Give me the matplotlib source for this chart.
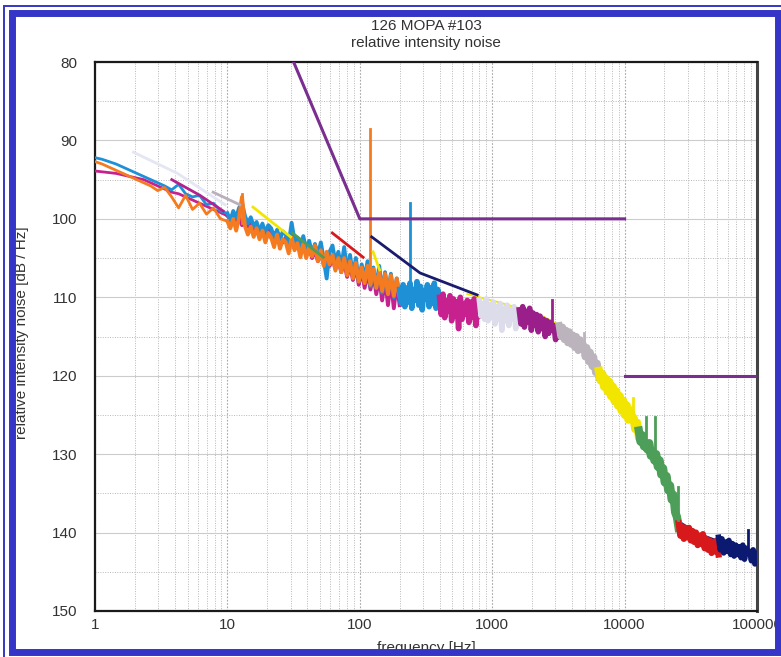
import numpy as np
import matplotlib.pyplot as plt
from matplotlib.patches import Rectangle
from matplotlib.ticker import FixedLocator, LogLocator, MultipleLocator, NullFormatter

plt.rcParams['font.family'] = ['Liberation Sans', 'DejaVu Sans']

# --- low-frequency sweeps: 1-10 Hz (coarse) and 10-200 Hz (fine) ---
orange_lo = [92.7, 93.0, 93.4, 93.8, 94.2, 94.6, 95.0, 95.4, 95.8, 96.4,
             96.0, 97.2, 98.6, 97.0, 98.8, 98.0, 99.4, 98.6, 100.0, 100.3]
blue_lo = [92.2, 92.4, 92.7, 93.0, 93.4, 93.8, 94.2, 94.6, 95.0, 95.4,
           95.8, 96.3, 95.6, 96.8, 97.2, 97.0, 98.2, 98.0, 99.0, 99.3]
magenta_lo = [93.9, 94.0, 94.1, 94.2, 94.4, 94.6, 94.8, 95.0, 95.4, 95.8,
              96.2, 96.6, 96.8, 97.2, 97.6, 98.0, 98.4, 98.8, 99.2, 99.6]

orange_hi = [100.3, 101.2, 100.0, 101.5, 99.8, 97.2, 100.9, 102.0, 101.0, 102.3,
             101.2, 102.6, 101.5, 103.0, 101.8, 102.4, 103.6, 102.0, 103.8, 102.6,
             103.0, 104.4, 102.4, 104.0, 103.1, 104.9, 103.2, 105.0, 103.6, 104.8,
             103.4, 105.4, 104.0, 106.0, 104.2, 105.8, 104.6, 106.6, 105.0, 106.8,
             105.0, 107.2, 105.4, 107.6, 105.6, 108.0, 106.2, 108.2, 106.0, 108.4,
             106.4, 108.8, 106.8, 109.2, 107.0, 109.6, 107.2, 109.8, 107.6, 110.0]
blue_hi = [99.3, 100.2, 99.0, 99.8, 98.6, 98.0, 99.6, 100.6, 99.8, 101.0,
           100.4, 101.6, 100.6, 101.8, 100.8, 101.2, 102.4, 101.4, 102.6, 101.6,
           102.0, 103.2, 100.5, 102.8, 102.4, 103.6, 102.2, 104.0, 102.8, 104.4,
           103.2, 104.6, 103.0, 105.2, 107.6, 104.2, 103.4, 105.6, 104.2, 106.2,
           103.6, 106.8, 104.6, 107.2, 105.0, 108.0, 105.8, 107.6, 105.4, 108.6,
           106.2, 108.8, 106.0, 109.4, 106.8, 109.6, 107.0, 110.0, 107.6, 109.8]
magenta_hi = [99.6, 100.0, 99.4, 100.4, 99.8, 100.8, 100.2, 101.0, 100.6, 101.4,
              100.8, 101.8, 101.0, 102.2, 101.4, 102.4, 101.8, 102.6, 102.2, 103.0,
              102.4, 103.4, 102.8, 103.8, 103.0, 104.2, 103.4, 104.6, 103.6, 105.0,
              104.0, 105.4, 104.2, 105.8, 104.6, 106.0, 105.0, 106.4, 105.2, 106.8,
              105.4, 107.4, 105.8, 107.8, 106.0, 108.4, 106.4, 108.8, 106.6, 109.0,
              107.0, 109.6, 107.4, 110.4, 107.6, 111.0, 107.8, 111.4, 108.2, 111.0]

# --- octave spans 200 Hz .. 100 kHz ---
span_edges = [200, 400, 800, 1600, 3200, 6400, 12800, 25600, 51200, 102400]
span_blue = [109.0, 110.8, 108.4, 111.2, 108.8, 110.6, 108.2, 111.4, 109.0, 110.4, 108.0, 111.0,
             108.6, 111.6, 109.2, 110.2, 108.4, 111.2, 108.8, 110.8, 108.2, 111.4, 109.0, 110.6]
span_magenta = [110.0, 112.2, 109.6, 112.6, 110.4, 111.8, 109.8, 113.0, 110.2, 112.4, 110.6, 114.0,
                110.0, 112.8, 110.8, 112.2, 110.4, 113.2, 110.6, 112.6, 110.2, 113.6, 111.0, 112.4]
span_lavender = [110.4, 112.4, 110.8, 112.8, 110.2, 113.0, 111.0, 112.6, 110.6, 113.4, 111.2, 112.8,
                 110.8, 114.2, 111.4, 113.0, 111.0, 113.6, 111.6, 112.8, 111.2, 114.0, 111.8, 113.2]
span_purple = [111.6, 113.4, 111.2, 113.8, 111.8, 113.2, 111.4, 114.2, 112.0, 113.6, 112.2, 114.4,
               112.4, 114.0, 112.8, 115.0, 113.0, 114.6, 113.2, 114.2, 113.6, 115.4, 113.8, 115.0]
span_grey = [113.6, 115.0, 113.8, 115.4, 114.2, 115.8, 114.4, 116.0, 114.8, 116.4, 115.0, 116.8,
             115.4, 116.6, 116.0, 117.6, 116.4, 118.2, 117.0, 118.8, 117.6, 119.6, 118.4, 120.2]
span_yellow = [119.4, 120.6, 119.8, 121.4, 120.4, 122.0, 120.8, 122.6, 121.4, 123.2, 122.0, 123.8,
               122.6, 124.4, 123.2, 125.0, 123.8, 125.6, 124.4, 125.2, 125.4, 126.8, 126.0, 127.6]
span_green = [127.0, 128.4, 127.6, 129.0, 128.8, 129.4, 128.6, 130.2, 129.6, 130.8, 130.0, 131.6,
              130.8, 132.6, 131.8, 133.6, 132.8, 134.6, 134.0, 135.8, 135.2, 137.4, 138.0, 139.4]
span_red = [138.8, 140.4, 139.2, 140.8, 139.4, 140.6, 139.4, 141.0, 139.8, 141.2, 140.0, 141.6,
            140.4, 141.4, 140.2, 142.0, 140.8, 142.2, 141.0, 142.6, 141.2, 142.4, 141.0, 142.8]
span_navy = [140.6, 142.2, 140.8, 142.6, 141.2, 142.4, 141.0, 142.8, 141.4, 143.0, 141.6, 142.8,
             141.8, 143.2, 141.6, 143.4, 142.0, 142.6, 142.4, 143.6, 142.2, 144.0, 142.6, 143.8]

span_values = [span_blue, span_magenta, span_lavender, span_purple, span_grey,
               span_yellow, span_green, span_red, span_navy]
span_colors = ['#1e90d6', '#c6218e', '#dcdcea', '#9a1f8a', '#bbb4bc',
               '#f2e600', '#4c9e58', '#d7191c', '#0b1a70']
# the steep roll-off spans read as wider bands
span_widths = [4.0, 4.0, 4.0, 4.0, 5.0, 6.0, 6.0, 4.5, 4.0]

# narrow lines standing out of the noise floor
spike_f = [13, 120, 240, 2850, 4900, 11500, 14600, 16900, 25300, 85000]
spike_top = [96.8, 88.5, 98.0, 110.4, 114.6, 122.8, 125.3, 125.3, 134.2, 139.7]
spike_base = [100.5, 107.5, 109.5, 113.5, 116.4, 125.0, 128.6, 130.0, 138.4, 142.6]
spike_colors = ['#f47b20', '#f47b20', '#1e90d6', '#9a1f8a', '#bbb4bc',
                '#f2e600', '#4c9e58', '#4c9e58', '#4c9e58', '#0b1a70']

# traces that sit mostly underneath the spans
under_yellow_f = [650, 800, 1100, 1600, 2400, 3400, 4600, 6000]
under_yellow_db = [109.6, 110.0, 110.6, 111.4, 112.4, 113.8, 115.6, 118.4]
under_red_f = [1200, 2000, 3000, 5000, 7000, 9000, 12000, 16000, 20000, 26000]
under_red_db = [111.4, 112.4, 113.6, 116.0, 120.0, 122.6, 125.8, 130.2, 133.8, 138.6]
under_navy_f = [4000, 6000, 8000, 10000, 13000, 16000, 20000, 26000, 35000, 50000]
under_navy_db = [114.6, 118.4, 121.4, 123.6, 127.4, 130.0, 133.6, 138.6, 140.0, 141.0]

# averaged low-resolution traces
smooth_f = [[1.95, 4.2, 9.6], [3.8, 6.2, 9.3], [7.8, 12.4], [15.6, 30],
            [31, 53], [62, 106], [126, 141], [123, 285, 770]]
smooth_db = [[91.5, 94.2, 98.2], [95.0, 97.0, 99.0], [96.6, 98.2], [98.5, 102.3],
             [101.8, 104.9], [101.8, 104.9], [104.2, 106.5], [102.3, 106.9, 109.7]]
smooth_colors = ['#e4e6f4', '#b3218f', '#b8b0bc', '#f2e600',
                 '#4c9e58', '#d7191c', '#f2e600', '#1a1a6e']

# RIN specification
spec_f = [10, 100, 10000]
spec_db = [60, 100, 100]
spec2_f = [10000, 100000]
spec2_db = [120, 120]

W, H = 781, 657
fig = plt.figure(figsize=(W / 100, H / 100), dpi=100)
ax = fig.add_axes([95 / W, 1 - 611 / H, (757 - 95) / W, (611 - 62) / H])
ax.set_xscale('log')
ax.set_xlim(1, 100000)
ax.set_ylim(150, 80)

ax.xaxis.set_major_locator(FixedLocator([1, 10, 100, 1000, 10000, 100000]))
ax.set_xticklabels(['1', '10', '100', '1000', '10000', '100000'])
ax.xaxis.set_minor_locator(LogLocator(base=10, subs=range(2, 10), numticks=50))
ax.xaxis.set_minor_formatter(NullFormatter())
ax.set_yticks(range(80, 151, 10))
ax.yaxis.set_minor_locator(MultipleLocator(5))

ax.grid(which='major', axis='y', color='#cccccc', lw=0.8, ls='-')
ax.grid(which='major', axis='x', color='#a8a8a8', lw=0.8, ls=(0, (1.5, 1.5)))
ax.grid(which='minor', color='#b8b8b8', lw=0.7, ls=(0, (1, 1.5)))
ax.set_axisbelow(True)
ax.tick_params(which='both', length=0, labelsize=11, colors='#333333')
ax.tick_params(axis='y', pad=13)
ax.tick_params(axis='x', pad=5)
for s in ax.spines.values():
    s.set_color('#1a1a1a')
    s.set_linewidth(1.6)
ax.spines['right'].set_color('#444444')
ax.spines['right'].set_linewidth(2.2)

f_lo = np.geomspace(1, 10, 20)
f_hi = np.geomspace(10, 200, 60)

# hidden traces first
ax.plot(under_yellow_f, under_yellow_db, color='#f2e600', lw=1.4, zorder=2)
ax.plot(under_red_f, under_red_db, color='#d7191c', lw=1.2, zorder=2)
ax.plot(under_navy_f, under_navy_db, color='#0b1a70', lw=1.2, zorder=2)

for lo, hi, c in [(magenta_lo, magenta_hi, '#c6218e'),
                  (blue_lo, blue_hi, '#1e90d6'),
                  (orange_lo, orange_hi, '#f47b20')]:
    ax.plot(f_lo, lo, color=c, lw=2.0, zorder=3)
    ax.plot(f_hi, hi, color=c, lw=2.8, zorder=3)

for i, vals in enumerate(span_values):
    f = np.geomspace(span_edges[i], span_edges[i + 1], len(vals))
    ax.plot(f, vals, color=span_colors[i], lw=span_widths[i], zorder=3)

for fx, top, base, c in zip(spike_f, spike_top, spike_base, spike_colors):
    ax.plot([fx, fx], [base, top], color=c, lw=2.0, zorder=3.5)

for fx, db, c in zip(smooth_f, smooth_db, smooth_colors):
    ax.plot(fx, db, color=c, lw=2.0, zorder=4)

ax.plot(spec_f, spec_db, color='#7a2e90', lw=2.2, zorder=5)
ax.plot(spec2_f, spec2_db, color='#7a2e90', lw=2.2, zorder=5)

fig.text(426 / W, 1 - 26 / H, '126 MOPA #103', ha='center', va='center',
         fontsize=11, color='#333333')
fig.text(426 / W, 1 - 43 / H, 'relative intensity noise', ha='center', va='center',
         fontsize=11, color='#333333')
fig.text(22 / W, 1 - 333 / H, 'relative intensity noise [dB / Hz]', rotation=90,
         ha='center', va='center', fontsize=11, color='#333333')
fig.text(426 / W, 1 - 641 / H, 'frequency [Hz]', ha='center', va='top',
         fontsize=11, color='#333333')

# blue frame round the page
blue = '#3535c8'
fig.add_artist(Rectangle((11.5 / W, 1 - 651.5 / H), (778 - 11.5) / W, (651.5 - 13) / H,
                         transform=fig.transFigure, fill=False, ec=blue, lw=5.0, zorder=10))
fig.add_artist(Rectangle((4 / W, -0.05), 1.1, 1 - 6 / H + 0.05,
                         transform=fig.transFigure, fill=False, ec=blue, lw=1.4, zorder=10))

fig.savefig('out.png', dpi=100)
